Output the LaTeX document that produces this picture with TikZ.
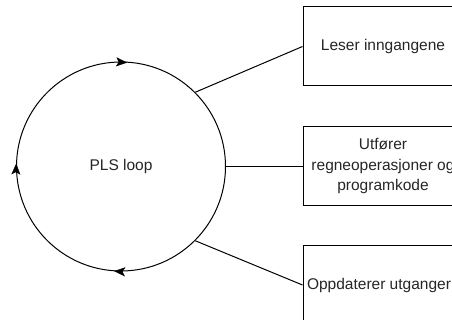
\documentclass[tikz,border=0pt]{standalone}
\usepackage{fontspec}
\setmainfont{Liberation Sans}
\usetikzlibrary{arrows.meta,decorations.markings}
\tikzset{
  x=1pt,y=1pt,
  lbl/.style={font=\fontsize{15.5}{20.5}\selectfont, text=black!85},
  procbox/.style={draw, line width=1pt, minimum width=160pt, minimum height=79pt, align=center, inner sep=0pt, lbl},
  loopcirc/.style={draw, circle, line width=1pt, minimum size=209pt, inner sep=0pt, lbl},
  conn/.style={line width=1pt},
  flowarrow/.style={decoration={markings,
      mark=at position 0.13 with {\arrow{Stealth[length=11pt,width=9pt,inset=2.5pt]}},
      mark=at position 0.385 with {\arrow{Stealth[length=11pt,width=9pt,inset=2.5pt]}},
      mark=at position 0.885 with {\arrow{Stealth[length=11pt,width=9pt,inset=2.5pt]}}},
    postaction={decorate}}
}
\begin{document}
\begin{tikzpicture}
\useasboundingbox (0,0) rectangle (452,320);
\clip (0,0) rectangle (452,320);
\fill[white] (0,0) rectangle (452,320);
\node[loopcirc] (loop) at (121,153.5) {PLS loop};
\path[flowarrow] (loop.225) arc[start angle=225, end angle=-135, radius=104.5];
\node[procbox] (b1) at (383,273.5) {Leser inngangene};
\node[procbox] (b2) at (383,153.5) {Utfører\\regneoperasjoner og\\programkode};
\node[procbox] (b3) at (383,35) {\hspace*{-8pt}Oppdaterer utganger};
\draw[conn] (loop.45) -- (b1.west);
\draw[conn] (loop.east) -- (b2.west);
\draw[conn] (loop.-45) -- (b3.west);
\end{tikzpicture}
\end{document}
